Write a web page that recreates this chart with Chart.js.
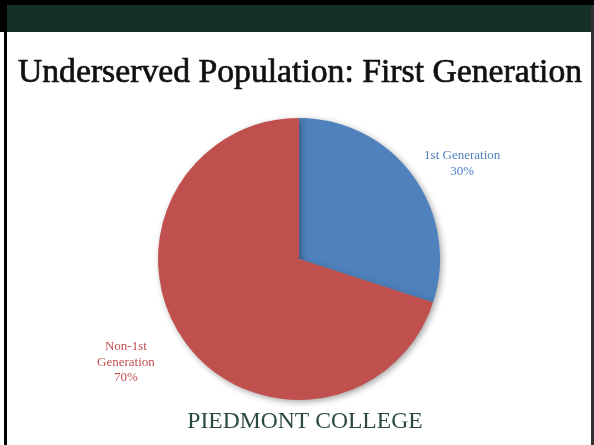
<!DOCTYPE html>
<html>
<head>
<meta charset="utf-8">
<script src="https://cdn.jsdelivr.net/npm/chart.js@4.4.0/dist/chart.umd.min.js"></script>
<style>
  html, body { margin: 0; padding: 0; background: #fff; }
  #wrap { width: 594px; height: 445px; position: relative; }
</style>
</head>
<body>
<div id="wrap"><canvas id="gen-chart"></canvas></div>
<script>
const categories = ['1st Generation', 'Non-1st Generation'];
const labelLines = [['1st Generation'], ['Non-1st', 'Generation']];
const shares = [30, 70];
const sliceColors = ['#4F81BD', '#C0504D'];
const titleText = 'Underserved Population: First Generation';
const footerText = 'PIEDMONT COLLEGE';

const ctx = document.getElementById('gen-chart');

// frame, green bar, title and footer
const slideFrame = {
    id: 'slideFrame',
    beforeDraw(chart) {
        const c = chart.ctx;
        const w = chart.width, h = chart.height;
        c.save();
        c.fillStyle = '#ffffff';
        c.fillRect(0, 0, w, h);
        c.fillStyle = '#000000';
        c.fillRect(0, 0, w, 5);
        c.fillRect(0, 0, 7, 32);
        c.fillRect(4, 0, 3, h);
        c.fillStyle = '#333333';
        c.fillRect(591, 0, 3, h);
        c.fillStyle = '#000000';
        c.fillRect(588, 0, 6, 5);
        c.fillStyle = '#173026';
        c.fillRect(7, 5, 584, 27);

        c.fillStyle = '#111111';
        c.strokeStyle = '#111111';
        c.lineWidth = 0.7;
        c.textAlign = 'center';
        c.textBaseline = 'alphabetic';
        c.font = '33.7px "Liberation Serif"';
        c.fillText(titleText, 300, 82);
        c.strokeText(titleText, 300, 82);

        c.fillStyle = '#2B4A3B';
        c.font = '23.6px "Liberation Serif"';
        c.fillText(footerText, 305, 428);
        c.restore();
    },
    beforeDatasetsDraw(chart) {
        const c = chart.ctx;
        c.save();
        c.shadowColor = 'rgba(0,0,0,0.35)';
        c.shadowBlur = 6;
        c.shadowOffsetX = 2;
        c.shadowOffsetY = 2;
    },
    afterDatasetsDraw(chart) {
        chart.ctx.restore();
    }
};

// outside labels: name + percent
const sliceLabels = {
    id: 'sliceLabels',
    afterDraw(chart) {
        const c = chart.ctx;
        const meta = chart.getDatasetMeta(0);
        c.save();
        c.textAlign = 'center';
        c.textBaseline = 'middle';
        c.font = '13px "Liberation Serif"';
        meta.data.forEach((arc, i) => {
            const p = arc.getProps(['x', 'y', 'startAngle', 'endAngle', 'outerRadius'], true);
            const mid = (p.startAngle + p.endAngle) / 2 + (i === 0 ? 0.1 : 0.09);
            const r = p.outerRadius * (i === 0 ? 1.34 : 1.43);
            const cx = p.x + Math.cos(mid) * r;
            const cy = p.y + Math.sin(mid) * r;
            const lines = labelLines[i].concat([shares[i] + '%']);
            const lh = 15.5;
            c.fillStyle = sliceColors[i];
            lines.forEach((t, j) => {
                c.fillText(t, cx, cy + (j - (lines.length - 1) / 2) * lh);
            });
        });
        c.restore();
    }
};

new Chart(ctx, {
    type: 'pie',
    data: {
        labels: categories,
        datasets: [{
            data: shares,
            backgroundColor: sliceColors,
            borderWidth: 0
        }]
    },
    options: {
        responsive: true,
        maintainAspectRatio: false,
        animation: false,
        layout: {
            padding: { top: 118, bottom: 45, left: 4, right: 0 }
        },
        plugins: {
            legend: { display: false },
            tooltip: { enabled: false }
        }
    },
    plugins: [slideFrame, sliceLabels]
});
</script>
</body>
</html>
